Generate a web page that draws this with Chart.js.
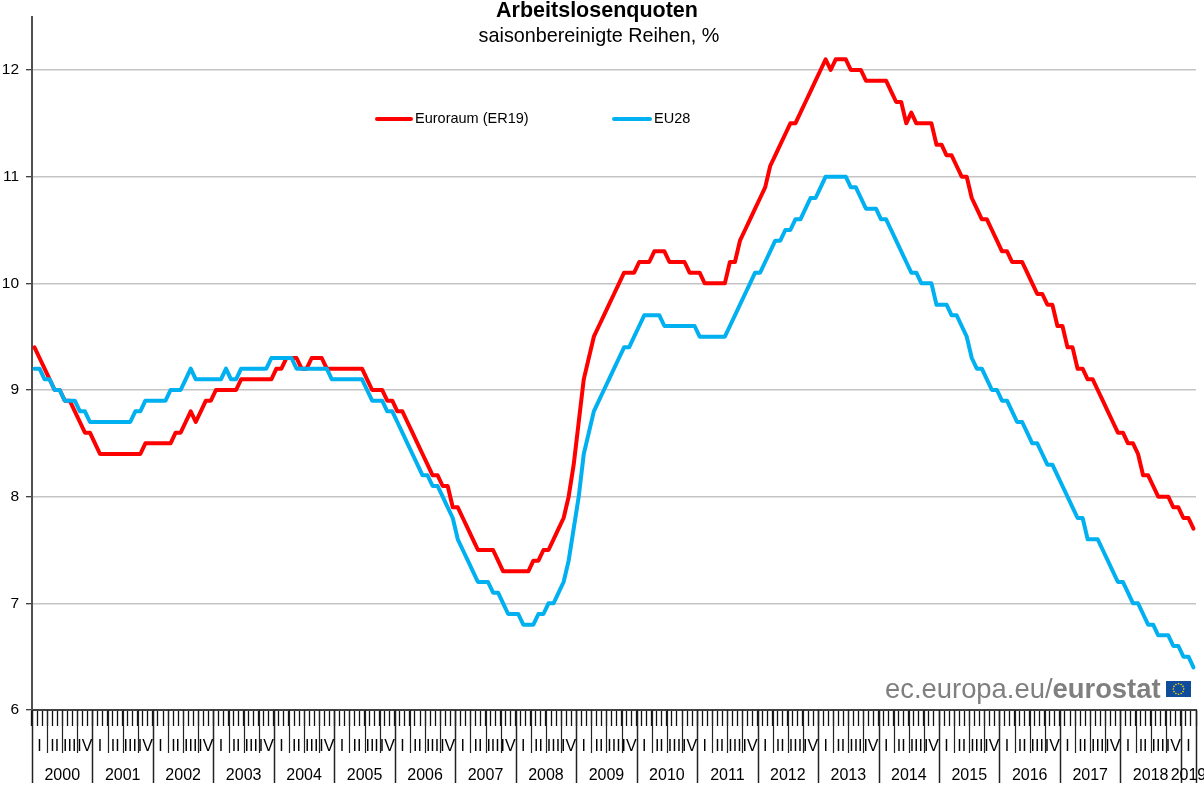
<!DOCTYPE html>
<html>
<head>
<meta charset="utf-8">
<title>Arbeitslosenquoten</title>
<script src="https://cdn.jsdelivr.net/npm/chart.js@4"></script>
<style>
  html, body { margin: 0; padding: 0; background: #fff; overflow: hidden; }
  canvas { display: block; }
</style>
</head>
<body>
<canvas id="ratesChart" width="1204" height="792"></canvas>
<script>
const years = [2000, 2001, 2002, 2003, 2004, 2005, 2006, 2007, 2008, 2009,
  2010, 2011, 2012, 2013, 2014, 2015, 2016, 2017, 2018, 2019];
const quarterNames = ['I', 'II', 'III', 'IV'];
const yTicks = [6, 7, 8, 9, 10, 11, 12];

const euroArea = [
  9.4, 9.3, 9.2, 9.1, 9.0, 9.0, 8.9, 8.9, 8.8, 8.7, 8.6, 8.6,
  8.5, 8.4, 8.4, 8.4, 8.4, 8.4, 8.4, 8.4, 8.4, 8.4, 8.5, 8.5,
  8.5, 8.5, 8.5, 8.5, 8.6, 8.6, 8.7, 8.8, 8.7, 8.8, 8.9, 8.9,
  9.0, 9.0, 9.0, 9.0, 9.0, 9.1, 9.1, 9.1, 9.1, 9.1, 9.1, 9.1,
  9.2, 9.2, 9.3, 9.3, 9.3, 9.2, 9.2, 9.3, 9.3, 9.3, 9.2, 9.2,
  9.2, 9.2, 9.2, 9.2, 9.2, 9.2, 9.1, 9.0, 9.0, 9.0, 8.9, 8.9,
  8.8, 8.8, 8.7, 8.6, 8.5, 8.4, 8.3, 8.2, 8.2, 8.1, 8.1, 7.9,
  7.9, 7.8, 7.7, 7.6, 7.5, 7.5, 7.5, 7.5, 7.4, 7.3, 7.3, 7.3,
  7.3, 7.3, 7.3, 7.4, 7.4, 7.5, 7.5, 7.6, 7.7, 7.8, 8.0, 8.3,
  8.7, 9.1, 9.3, 9.5, 9.6, 9.7, 9.8, 9.9, 10.0, 10.1, 10.1, 10.1,
  10.2, 10.2, 10.2, 10.3, 10.3, 10.3, 10.2, 10.2, 10.2, 10.2, 10.1, 10.1,
  10.1, 10.0, 10.0, 10.0, 10.0, 10.0, 10.2, 10.2, 10.4, 10.5, 10.6, 10.7,
  10.8, 10.9, 11.1, 11.2, 11.3, 11.4, 11.5, 11.5, 11.6, 11.7, 11.8, 11.9,
  12.0, 12.1, 12.0, 12.1, 12.1, 12.1, 12.0, 12.0, 12.0, 11.9, 11.9, 11.9,
  11.9, 11.9, 11.8, 11.7, 11.7, 11.5, 11.6, 11.5, 11.5, 11.5, 11.5, 11.3,
  11.3, 11.2, 11.2, 11.1, 11.0, 11.0, 10.8, 10.7, 10.6, 10.6, 10.5, 10.4,
  10.3, 10.3, 10.2, 10.2, 10.2, 10.1, 10.0, 9.9, 9.9, 9.8, 9.8, 9.6,
  9.6, 9.4, 9.4, 9.2, 9.2, 9.1, 9.1, 9.0, 8.9, 8.8, 8.7, 8.6,
  8.6, 8.5, 8.5, 8.4, 8.2, 8.2, 8.1, 8.0, 8.0, 8.0, 7.9, 7.9,
  7.8, 7.8, 7.7
];

const eu28 = [
  9.2, 9.2, 9.1, 9.1, 9.0, 9.0, 8.9, 8.9, 8.9, 8.8, 8.8, 8.7,
  8.7, 8.7, 8.7, 8.7, 8.7, 8.7, 8.7, 8.7, 8.8, 8.8, 8.9, 8.9,
  8.9, 8.9, 8.9, 9.0, 9.0, 9.0, 9.1, 9.2, 9.1, 9.1, 9.1, 9.1,
  9.1, 9.1, 9.2, 9.1, 9.1, 9.2, 9.2, 9.2, 9.2, 9.2, 9.2, 9.3,
  9.3, 9.3, 9.3, 9.3, 9.2, 9.2, 9.2, 9.2, 9.2, 9.2, 9.2, 9.1,
  9.1, 9.1, 9.1, 9.1, 9.1, 9.1, 9.0, 8.9, 8.9, 8.9, 8.8, 8.8,
  8.7, 8.6, 8.5, 8.4, 8.3, 8.2, 8.2, 8.1, 8.1, 8.0, 7.9, 7.8,
  7.6, 7.5, 7.4, 7.3, 7.2, 7.2, 7.2, 7.1, 7.1, 7.0, 6.9, 6.9,
  6.9, 6.8, 6.8, 6.8, 6.9, 6.9, 7.0, 7.0, 7.1, 7.2, 7.4, 7.7,
  8.0, 8.4, 8.6, 8.8, 8.9, 9.0, 9.1, 9.2, 9.3, 9.4, 9.4, 9.5,
  9.6, 9.7, 9.7, 9.7, 9.7, 9.6, 9.6, 9.6, 9.6, 9.6, 9.6, 9.6,
  9.5, 9.5, 9.5, 9.5, 9.5, 9.5, 9.6, 9.7, 9.8, 9.9, 10.0, 10.1,
  10.1, 10.2, 10.3, 10.4, 10.4, 10.5, 10.5, 10.6, 10.6, 10.7, 10.8, 10.8,
  10.9, 11.0, 11.0, 11.0, 11.0, 11.0, 10.9, 10.9, 10.8, 10.7, 10.7, 10.7,
  10.6, 10.6, 10.5, 10.4, 10.3, 10.2, 10.1, 10.1, 10.0, 10.0, 10.0, 9.8,
  9.8, 9.8, 9.7, 9.7, 9.6, 9.5, 9.3, 9.2, 9.2, 9.1, 9.0, 9.0,
  8.9, 8.9, 8.8, 8.7, 8.7, 8.6, 8.5, 8.5, 8.4, 8.3, 8.3, 8.2,
  8.1, 8.0, 7.9, 7.8, 7.8, 7.6, 7.6, 7.6, 7.5, 7.4, 7.3, 7.2,
  7.2, 7.1, 7.0, 7.0, 6.9, 6.8, 6.8, 6.7, 6.7, 6.7, 6.6, 6.6,
  6.5, 6.5, 6.4
];

const months = [];
years.forEach(y => {
  for (let m = 1; m <= 12; m++) months.push(`${y}-${m}`);
});
const labels = months.slice(0, euroArea.length);

const FONT = '"Liberation Sans", Arial, sans-serif';
const RED = '#ff0000';
const BLUE = '#00b0f0';

// quarter and year ticks under the axis, and their labels
const timeAxis = {
  id: 'timeAxis',
  afterDraw(chart) {
    const { ctx, scales: { x } } = chart;
    const step = x.getPixelForValue(1) - x.getPixelForValue(0);
    const edge = i => x.getPixelForValue(0) + (i - 0.5) * step;
    const count = labels.length;

    ctx.save();
    ctx.strokeStyle = '#222';
    ctx.fillStyle = '#000';
    ctx.textAlign = 'center';
    ctx.textBaseline = 'middle';

    for (let i = 0; i <= count; i++) {
      if (i % 3 !== 0 && i !== count) continue;
      const isYear = i % 12 === 0 || i === count;
      const px = Math.round(edge(i)) + 0.5;
      ctx.lineWidth = isYear ? 1.5 : 1.2;
      ctx.beginPath();
      ctx.moveTo(px, x.top);
      ctx.lineTo(px, isYear ? 783 : 753);
      ctx.stroke();
    }

    ctx.font = `16px ${FONT}`;
    for (let i = 0; i < count; i += 3) {
      const q = quarterNames[(i / 3) % 4];
      ctx.fillText(q, edge(i + 1.5), 747);
    }

    years.forEach((y, n) => {
      const from = n * 12;
      const to = Math.min(from + 12, count);
      ctx.fillText(String(y), edge((from + to) / 2), 776);
    });
    ctx.restore();
  }
};

// title, legend and the eurostat mark
const annotations = {
  id: 'annotations',
  afterDraw(chart) {
    const { ctx, data } = chart;
    ctx.save();
    ctx.fillStyle = '#000';
    ctx.textBaseline = 'middle';
    ctx.textAlign = 'center';
    ctx.font = `bold 21.5px ${FONT}`;
    ctx.fillText('Arbeitslosenquoten', 597, 11);
    ctx.font = `19.8px ${FONT}`;
    ctx.fillText('saisonbereinigte Reihen, %', 599, 37);

    ctx.textAlign = 'left';
    ctx.lineCap = 'round';
    ctx.lineWidth = 4;
    [[377, 411, 415], [614, 650, 654]].forEach(([a, b, t], i) => {
      const ds = data.datasets[i];
      ctx.strokeStyle = ds.borderColor;
      ctx.beginPath();
      ctx.moveTo(a, 119);
      ctx.lineTo(b, 119);
      ctx.stroke();
      ctx.fillStyle = '#000';
      ctx.font = `14.5px ${FONT}`;
      ctx.fillText(ds.label, t, 118.5);
    });

    ctx.fillStyle = '#7f7f7f';
    ctx.textBaseline = 'alphabetic';
    ctx.font = `27.4px ${FONT}`;
    ctx.fillText('ec.europa.eu/', 885, 698);
    const w = ctx.measureText('ec.europa.eu/').width;
    ctx.font = `bold 27.4px ${FONT}`;
    ctx.fillText('eurostat', 885 + w, 698);

    ctx.fillStyle = '#0f4c9c';
    ctx.fillRect(1166, 681, 25, 16);
    ctx.fillStyle = '#ffdd00';
    for (let k = 0; k < 12; k++) {
      const a = k * Math.PI / 6;
      ctx.beginPath();
      ctx.arc(1178.5 + 5.2 * Math.cos(a), 689 + 5.2 * Math.sin(a), 0.8, 0, Math.PI * 2);
      ctx.fill();
    }
    ctx.restore();
  }
};

new Chart(document.getElementById('ratesChart').getContext('2d'), {
  type: 'line',
  data: {
    labels: labels,
    datasets: [
      { label: 'Euroraum (ER19)', data: euroArea, borderColor: RED, order: 2 },
      { label: 'EU28', data: eu28, borderColor: BLUE, order: 1 }
    ]
  },
  options: {
    responsive: false,
    animation: false,
    layout: { padding: { top: 16.67, right: 8, left: 0, bottom: 0 } },
    elements: {
      line: { borderWidth: 4, tension: 0, borderJoinStyle: 'round', borderCapStyle: 'round' },
      point: { radius: 0 }
    },
    plugins: {
      legend: { display: false },
      title: { display: false },
      tooltip: { enabled: false }
    },
    scales: {
      x: {
        type: 'category',
        offset: true,
        afterFit: s => { s.height = 82; },
        grid: {
          offset: true,
          drawOnChartArea: false,
          drawTicks: true,
          tickLength: 16,
          tickColor: '#111',
          tickWidth: 1.3
        },
        border: { color: '#404040', width: 2 },
        ticks: { display: false, autoSkip: false, maxRotation: 0 }
      },
      y: {
        min: 6,
        max: 12.5,
        afterFit: s => { s.width = 32; },
        afterBuildTicks: s => { s.ticks = yTicks.map(v => ({ value: v })); },
        grid: {
          color: '#c4c4c4',
          lineWidth: 1.5,
          tickColor: '#000',
          tickLength: 6,
          tickWidth: 1
        },
        border: { color: '#505050', width: 2 },
        ticks: {
          padding: 7,
          color: '#000',
          font: { family: FONT, size: 15.5 }
        }
      }
    }
  },
  plugins: [timeAxis, annotations]
});
</script>
</body>
</html>
